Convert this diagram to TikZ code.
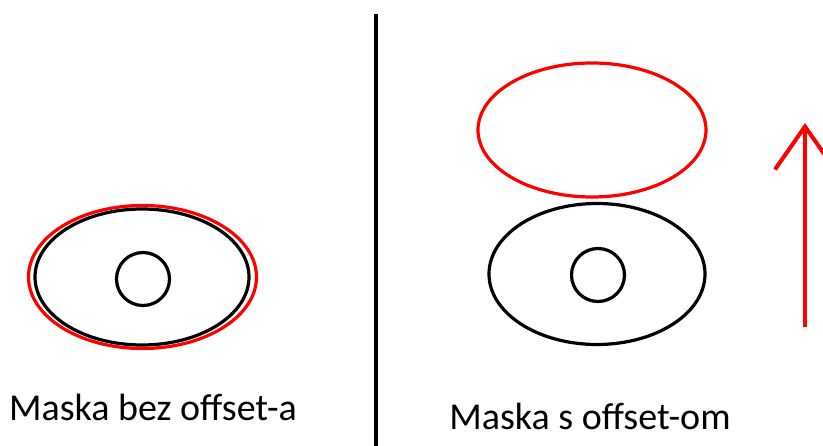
\documentclass[tikz,border=0pt]{standalone}
\usepackage{fontspec}
\setmainfont{Carlito}
\usetikzlibrary{arrows.meta,positioning,shapes.geometric}
\tikzset{
  maskring/.style={draw, ellipse, line width=3.2pt, inner sep=0pt, outer sep=0pt},
  offsetring/.style={maskring, red},
  hole/.style={draw, circle, line width=3.2pt, minimum size=53pt, inner sep=0pt},
  capt/.style={font=\fontsize{38}{40}\selectfont, inner sep=0pt},
  shiftarrow/.style={-{Straight Barb[length=43pt,width=60pt]}, red, line width=4pt},
}

\begin{document}
\begin{tikzpicture}[x=1pt,y=-1pt]
  \useasboundingbox (0,0) rectangle (823,446);
  \clip (0,0) rectangle (823,446);

  % left: no offset
  \node[offsetring, minimum width=228pt, minimum height=143pt] (redL) at (142.5,277) {};
  \node[maskring, minimum width=214pt, minimum height=136pt] (maskL) at (142,277) {};
  \node[hole] (holeL) at (143,279) {};
  \node[capt] (captL) at (153,407) {Maska bez offset-a};

  % divider
  \coordinate (divtop) at (376,14);
  \coordinate (divbot) at (376,446);
  \draw[line width=3.4pt] (divtop) -- (divbot);

  % right: with offset
  \node[offsetring, minimum width=228pt, minimum height=134pt] (redR) at (592,130) {};
  \node[maskring, minimum width=216pt, minimum height=141pt] (maskR) at (597,274) {};
  \node[hole] (holeR) at (598,275) {};
  \node[capt] (captR) at (590,416) {Maska s offset-om};

  \coordinate (arrbot) at (805,327);
  \coordinate (arrtop) at (805,123);
  \draw[shiftarrow] (arrbot) -- (arrtop);
\end{tikzpicture}
\end{document}
